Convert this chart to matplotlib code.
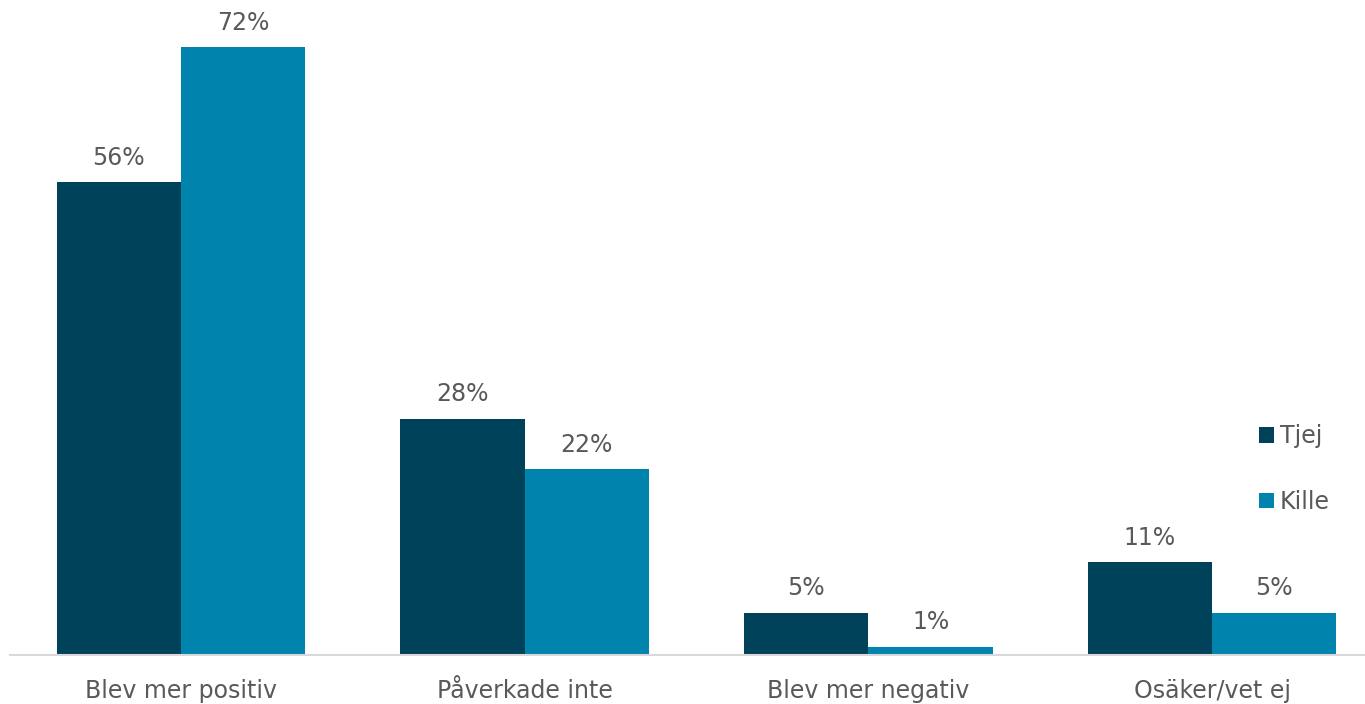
import matplotlib.pyplot as plt
import numpy as np

categories = ['Blev mer positiv', 'Påverkade inte', 'Blev mer negativ', 'Osäker/vet ej']
tjej = [56, 28, 5, 11]
kille = [72, 22, 1, 5]
series_names = ['Tjej', 'Kille']

dark = '#00425A'
light = '#0083AC'
text_col = '#595959'

plt.rcParams['font.family'] = ['DejaVu Sans']

fig = plt.figure(figsize=(13.65, 7.04), dpi=100)
# axes placed in pixel terms: left 10, right 1365, bottom 655 (from top), top 0
ax = fig.add_axes([10 / 1365, 49 / 704, 1355 / 1365, 655 / 704])

x = np.arange(len(categories))
w = 0.362
b1 = ax.bar(x - w / 2, tjej, w, color=dark, label=series_names[0])
b2 = ax.bar(x + w / 2, kille, w, color=light, label=series_names[1])

for bars in (b1, b2):
    for bar in bars:
        h = bar.get_height()
        ax.annotate(f'{h:.0f}%', (bar.get_x() + bar.get_width() / 2, h),
                    xytext=(0, 9), textcoords='offset points',
                    ha='center', va='bottom', fontsize=17, color=text_col)

ax.set_xlim(-0.4976, 3.445)
ax.set_ylim(0, 77.6)
ax.set_xticks(x)
ax.set_xticklabels(categories, fontsize=17, color=text_col)
ax.tick_params(axis='x', length=0, pad=17)
ax.set_yticks([])
for s in ['top', 'right', 'left']:
    ax.spines[s].set_visible(False)
ax.spines['bottom'].set_color('#D9D9D9')
ax.spines['bottom'].set_linewidth(1.5)

leg = ax.legend(loc='center left', bbox_to_anchor=(1228 / 1355, 1 - 469 / 655),
                frameon=False, fontsize=17, labelspacing=1.75,
                handlelength=0.62, handleheight=0.62, handletextpad=0.25)
for t in leg.get_texts():
    t.set_color(text_col)

plt.savefig('out.png', dpi=100)
